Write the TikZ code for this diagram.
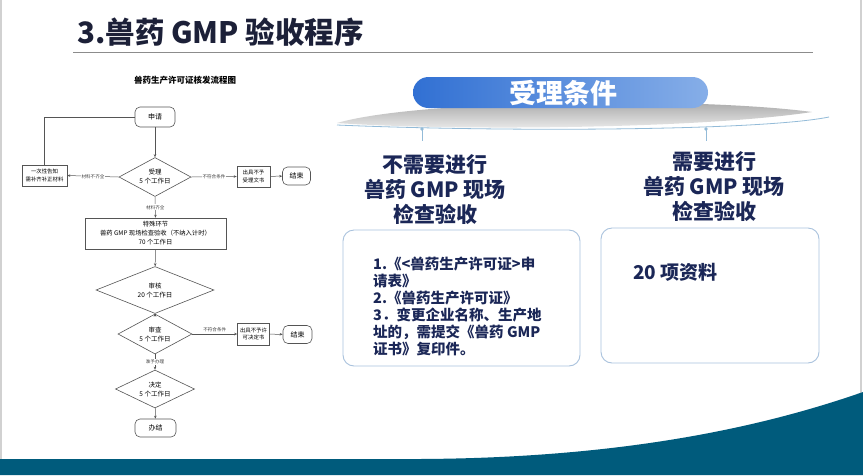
\documentclass[tikz,border=0pt]{standalone}
\usepackage{fontspec}
\setmainfont{Noto Sans CJK SC}
\usetikzlibrary{shapes.geometric,arrows.meta}
\definecolor{navy}{HTML}{1B2757}
\definecolor{titlec}{HTML}{1C2038}
\definecolor{flowline}{HTML}{555555}
\definecolor{pillL}{HTML}{3170D3}
\definecolor{pillR}{HTML}{86AEE8}
\definecolor{cardb}{HTML}{A9C2DD}
\definecolor{arcb}{HTML}{93BBD8}
\definecolor{teal}{HTML}{005B7C}
\begin{document}
\begin{tikzpicture}[x=1pt,y=-1pt,
  fl/.style={draw=flowline, line width=0.5pt},
  fa/.style={fl, -{Stealth[length=3pt,width=2.5pt]}},
  fbox/.style={draw=flowline, line width=0.6pt, align=center, inner sep=1pt, font=\fontsize{5.4}{7.5}\selectfont},
  fterm/.style={fbox, rounded corners=5pt, font=\fontsize{7}{8}\selectfont},
  fdia/.style={diamond, draw=flowline, line width=0.6pt, align=center, inner sep=0pt, font=\fontsize{6.5}{9}\selectfont},
  flab/.style={fill=white, inner sep=0.8pt, font=\fontsize{4.6}{5}\selectfont, text=black!75},
  head/.style={align=center, inner sep=0pt, text=navy, font=\fontsize{21}{25}\selectfont\bfseries},
  card/.style={draw=cardb, line width=0.9pt, rounded corners=11pt}
]
\useasboundingbox (0,0) rectangle (863,475);
\fill[white] (0,0) rectangle (863,475);
% side borders
\draw[black!18, line width=1.5pt] (1,0) -- (1,475);
\draw[black!18, line width=1.5pt] (861,0) -- (861,400);
% bottom wave
\fill[teal] (0,459) -- (420,459) .. controls (620,458) and (760,428) .. (863,392) -- (863,475) -- (0,475) -- cycle;
% title
\node[anchor=base west, inner sep=0pt, text=titlec, font=\fontsize{29.5}{32}\selectfont\bfseries] (title) at (77,43) {3.兽药 GMP 验收程序};
\draw[black!45, line width=1pt] (73,52) -- (813,52);

% ---- flowchart ----
\node[font=\fontsize{8.5}{9}\selectfont\bfseries, inner sep=0pt] (ftitle) at (185,80) {兽药生产许可证核发流程图};
\node[fterm, minimum width=40pt, minimum height=20pt] (sq) at (155,117) {申请};
\node[fdia, aspect=1.85, minimum width=72pt, minimum height=39pt] (sl) at (155,177) {受理\\5 个工作日};
\node[fbox, minimum width=45pt, minimum height=21pt] (lb) at (44.5,175.5) {一次性告知\\需补齐补正材料};
\node[fbox, minimum width=33pt, minimum height=21pt] (r1) at (253.5,176.5) {出具不予\\受理文书};
\node[fterm, minimum width=28pt, minimum height=18pt] (e1) at (296.5,176) {结束};
\node[fbox, font=\fontsize{6.3}{9}\selectfont, minimum width=141pt, minimum height=31pt] (tb) at (155.5,233.5) {特殊环节\\兽药 GMP 现场检查验收（不纳入计时）\\70 个工作日};
\node[fdia, aspect=2.5, minimum width=118pt, minimum height=47pt] (sh) at (155,290) {审核\\20 个工作日};
\node[fdia, aspect=1.85, minimum width=74pt, minimum height=40pt] (sc) at (155,334) {审查\\5 个工作日};
\node[fbox, minimum width=32pt, minimum height=22pt] (r2) at (253.5,334) {出具不予许\\可决定书};
\node[fterm, minimum width=29pt, minimum height=18pt] (e2) at (297.5,334.5) {结束};
\node[fdia, aspect=2.08, minimum width=79pt, minimum height=38pt] (jd) at (155,389) {决定\\5 个工作日};
\node[fterm, minimum width=41pt, minimum height=18pt] (bj) at (155.5,428) {办结};

\draw[fa] (sq) -- (sl);
\draw[fa] (sl.west) -- node[flab] {材料不齐全} (lb.east);
\draw[fl] (lb.north) |- (sq.west);
\draw[fa] (sl.east) -- node[flab] {不符合条件} (r1.west);
\draw[fa] (r1) -- (e1);
\draw[fa] (sl.south) -- node[flab] {材料齐全} (tb.north);
\draw[fa] (tb) -- (sh);
\draw[fa] (sh) -- (sc);
\draw[fa] (sc.east) -- node[flab, above=1.5pt, fill=none] {不符合条件} (r2.west);
\draw[fa] (r2) -- (e2);
\draw[fa] (sc.south) -- node[flab] {准予办理} (jd.north);
\draw[fa] (jd) -- (bj);

% ---- right panel ----
\shade[top color=black!38, bottom color=black!6] (337,123) .. controls (420,99) and (700,97) .. (812,112) .. controls (700,129) and (450,131) .. (337,123) -- cycle;
\draw[arcb, line width=0.8pt] (337,125) .. controls (500,132) and (760,131) .. (829,117);
\shade[left color=pillL, right color=pillR, rounded corners=15.5pt] (413,77) rectangle (708,108);
\node[text=white, inner sep=0pt, font=\fontsize{27}{30}\selectfont\bfseries] (ptext) at (563,93) {受理条件};
\draw[arcb, line width=1pt] (422,129) -- (422,141);
\draw[arcb, line width=1pt] (706,129) -- (706,141);
\fill[arcb] (422,129) circle (1.8pt);
\fill[arcb] (706,129) circle (1.8pt);

\node[head, anchor=north] (h1) at (435,154) {不需要进行\\兽药 GMP 现场\\检查验收};
\node[head, anchor=north] (h2) at (714,151) {需要进行\\兽药 GMP 现场\\检查验收};

\draw[card] (343,230) rectangle (580,366);
\draw[card] (601,228) rectangle (819,363);

\node[anchor=north west, inner sep=0pt, align=left, text=navy, font=\fontsize{14.5}{17}\selectfont\bfseries] (t1) at (373,257) {1.《<兽药生产许可证>申\\请表》\\2.《兽药生产许可证》\\3．变更企业名称、生产地\\址的，需提交《兽药 GMP\\证书》复印件。};
\node[anchor=west, inner sep=0pt, text=navy, font=\fontsize{19}{22}\selectfont\bfseries] (t2) at (633,272) {20 项资料};
\end{tikzpicture}
\end{document}
